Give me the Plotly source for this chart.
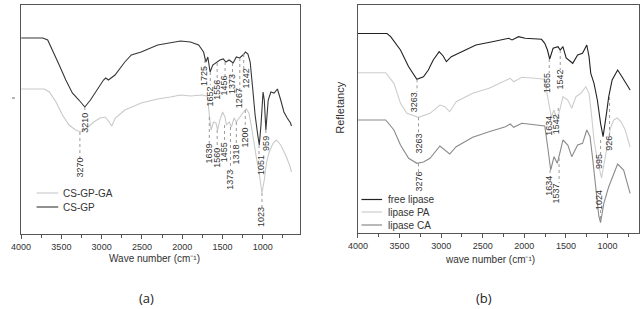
import plotly.graph_objects as go

# ---------------- data: panel (a) ----------------
gp_wn = [4000, 3731, 3670, 3609, 3527, 3445, 3364, 3282, 3209, 3139, 3059, 2977, 2949, 2916, 2834,
         2712, 2631, 2509, 2304, 2142, 2020, 1897, 1795, 1734, 1705, 1681, 1653, 1620, 1571, 1531,
         1489, 1457, 1416, 1367, 1327, 1286, 1245, 1213, 1183, 1155, 1122, 1094, 1061, 1042, 1021,
         995, 980, 960, 931, 898, 858, 817, 776, 736, 695, 654, 642]
gp_val = [196, 196, 194, 184, 169, 154, 141, 134, 127, 134, 144, 154, 156, 154, 159,
          172, 179, 182, 189, 191, 193, 192, 189, 182, 172, 177, 162, 169, 172, 174,
          175, 172, 174, 171, 177, 176, 179, 182, 180, 172, 144, 119, 99, 89, 109,
          142, 134, 104, 134, 142, 141, 145, 134, 122, 116, 111, 108]

ga_wn = [4000, 3710, 3649, 3567, 3487, 3405, 3323, 3258, 3181, 3099, 3017, 2956, 2916, 2875, 2830,
         2712, 2509, 2304, 2146, 2020, 1897, 1754, 1693, 1685, 1660, 1640, 1611, 1580, 1559, 1531,
         1498, 1469, 1449, 1416, 1388, 1355, 1327, 1286, 1237, 1204, 1171, 1143, 1103, 1073, 1049,
         1021, 1009, 980, 951, 919, 870, 829, 776, 715, 666, 642]
ga_val = [145, 145, 142, 132, 119, 109, 104, 102, 106, 112, 116, 117, 113, 108, 116,
          124, 131, 135, 137, 139, 138, 139, 138, 137, 117, 104, 112, 111, 104, 114,
          122, 117, 109, 112, 107, 116, 112, 117, 122, 125, 121, 109, 87, 74, 64,
          47, 41, 54, 72, 82, 91, 94, 89, 79, 69, 62]

# ---------------- data: panel (b) ----------------
fl_wn = [4000, 3651, 3607, 3556, 3489, 3391, 3331, 3292, 3213, 3154, 3095, 3024, 2976, 2937, 2878,
         2779, 2582, 2385, 2187, 2148, 2069, 1990, 1793, 1754, 1722, 1695, 1654, 1595, 1568, 1536,
         1497, 1418, 1359, 1300, 1249, 1222, 1201, 1162, 1122, 1083, 1053, 1012, 985, 944, 911,
         878, 826, 787, 728]
fl_val = [199.5, 199.5, 196.3, 191, 183, 166.3, 158, 153.7, 156.3, 163, 173, 181.3, 177, 171.3, 176.3,
          180, 188, 191.3, 194.7, 193, 196.3, 194.7, 193.7, 189.7, 183, 174, 184.7, 186.3, 183, 186.3,
          175, 169.7, 178, 179.7, 188, 176.3, 159.7, 149.7, 133, 109.7, 96.3, 119.7, 136.3, 153, 158,
          163, 156.3, 151.3, 143]

pa_wn = [4000, 3666, 3568, 3489, 3411, 3272, 3134, 3015, 2956, 2897, 2819, 2621, 2424, 2227, 2168,
         2128, 2030, 1872, 1754, 1706, 1675, 1643, 1604, 1564, 1536, 1477, 1430, 1379, 1320, 1261,
         1222, 1194, 1162, 1122, 1091, 1071, 1044, 1004, 964, 925, 882, 834, 787, 728]
pa_val = [160.3, 160.3, 149.7, 129.7, 119.7, 115.7, 119.7, 128, 126.3, 121.3, 131.3, 139.7, 144.7, 153, 154.7,
          151.3, 155.7, 154.7, 153.7, 129.7, 116.3, 123, 113, 126.3, 136.3, 133, 124.7, 136.3, 139.7, 146.3,
          139.7, 119.7, 93, 73, 59.7, 55, 68, 88, 105, 113, 115, 111, 103, 86]

ca_wn = [4000, 3666, 3568, 3489, 3391, 3292, 3213, 3134, 3015, 2956, 2897, 2819, 2621, 2424, 2227,
         2168, 2128, 2030, 1872, 1754, 1714, 1683, 1643, 1604, 1564, 1536, 1477, 1430, 1359, 1300,
         1249, 1210, 1181, 1154, 1122, 1103, 1083, 1044, 985, 925, 878, 806, 728]
ca_val = [113, 113, 103, 88, 74.7, 69.7, 71, 74.7, 87, 83, 79, 86.3, 95.7, 101.3, 106.3,
          109, 105.7, 109.7, 108, 107, 83, 63, 76.3, 69.7, 83, 93, 88, 76.3, 88, 89.7,
          103, 96.3, 76.3, 53, 29.7, 16.3, 10.5, 29.7, 46.3, 59.7, 69, 63, 39.7]

# peak labels (text) for each panel
a_labels = ["3210", "3270", "1725", "1652", "1556", "1456", "1373", "1267", "1242",
            "1639", "1560", "1455", "1373", "1318", "1200", "1051", "959", "1023"]
b_labels = ["3263", "3263", "3276", "1655", "1542", "1634", "1542", "1634", "1537",
            "926", "995", "1024"]

# label placement (wave number, height) - layout only
a_lab_pos = [(3209, 111), (3274, 66), (1721, 157.5), (1648, 138), (1571, 144), (1469, 148.5),
             (1375, 150.5), (1286, 135.5), (1196, 155.5), (1672, 80), (1571, 76), (1477, 82),
             (1408, 54), (1326, 80), (1225, 96), (1021, 69), (960, 91), (1021, 17)]
a_lines = [(3209, 127, 121), (3270, 102, 76), (1718, 174, 164), (1650, 162, 149), (1565, 171, 151),
           (1467, 172, 156), (1375, 171, 157), (1284, 176, 144), (1235, 180, 164),
           (1663, 117, 89), (1565, 104, 84), (1473, 109, 91), (1400, 107, 64), (1327, 112, 89),
           (1216, 124, 106), (1045, 89, 77), (960, 104, 99), (1009, 41, 26)]
b_lab_pos = [(3323, 131), (3272, 89), (3272, 51), (1722, 150.5), (1576, 153), (1707, 107),
             (1615, 109), (1707, 47), (1624, 39), (985, 90), (1101, 71), (1101, 33)]
b_lines = [(3290, 153.7, 141), (3272, 115.7, 98), (3272, 69.7, 60), (1700, 174, 160),
           (1568, 183, 163), (1592, 125, 118), (1690, 63, 56), (1582, 75, 50),
           (975, 136, 96), (1083, 93, 78), (1083, 23, 10.5)]

DARK_A, LIGHT_A = "#363636", "#c9c9c9"
DARK_B, LIGHT_B, MID_B = "#222222", "#cdcdcd", "#8a8a8a"
TXT = "#333333"
FONT = "Liberation Sans, Arial, sans-serif"

fig = go.Figure()
fig.add_trace(go.Scatter(x=ga_wn, y=ga_val, mode="lines", name="CS-GP-GA",
                         line=dict(color=LIGHT_A, width=1.1), xaxis="x", yaxis="y", showlegend=False))
fig.add_trace(go.Scatter(x=gp_wn, y=gp_val, mode="lines", name="CS-GP",
                         line=dict(color=DARK_A, width=1.1), xaxis="x", yaxis="y", showlegend=False))
fig.add_trace(go.Scatter(x=pa_wn, y=pa_val, mode="lines", name="lipase PA",
                         line=dict(color=LIGHT_B, width=1.1), xaxis="x2", yaxis="y2", showlegend=False))
fig.add_trace(go.Scatter(x=ca_wn, y=ca_val, mode="lines", name="lipase CA",
                         line=dict(color=MID_B, width=1.1), xaxis="x2", yaxis="y2", showlegend=False))
fig.add_trace(go.Scatter(x=fl_wn, y=fl_val, mode="lines", name="free lipase",
                         line=dict(color=DARK_B, width=1.1), xaxis="x2", yaxis="y2", showlegend=False))

shapes = []
annotations = []
for (xw, y0, y1) in a_lines:
    shapes.append(dict(type="line", xref="x", yref="y", x0=xw, x1=xw, y0=y0, y1=y1,
                       line=dict(color="#9a9a9a", width=1, dash="dot")))
for (xw, y0, y1) in b_lines:
    shapes.append(dict(type="line", xref="x2", yref="y2", x0=xw, x1=xw, y0=y0, y1=y1,
                       line=dict(color="#9a9a9a", width=1, dash="dot")))
for t, (xw, yv) in zip(a_labels, a_lab_pos):
    annotations.append(dict(text=t, x=xw, y=yv, xref="x", yref="y", showarrow=False, textangle=-90,
                            xanchor="center", yanchor="middle", font=dict(size=9, color=TXT, family=FONT)))
for t, (xw, yv) in zip(b_labels, b_lab_pos):
    annotations.append(dict(text=t, x=xw, y=yv, xref="x2", yref="y2", showarrow=False, textangle=-90,
                            xanchor="center", yanchor="middle", font=dict(size=9, color=TXT, family=FONT)))

W, H = 640, 309
def px(x): return x / W
def py(y): return 1 - y / H

# manual legends
leg_a = [("CS-GP-GA", LIGHT_A, 193), ("CS-GP", DARK_A, 207)]
leg_b = [("free lipase", DARK_B, 199.5), ("lipase PA", LIGHT_B, 212), ("lipase CA", MID_B, 225)]
for name, col, yy in leg_a:
    shapes.append(dict(type="line", xref="paper", yref="paper", x0=px(27), x1=px(49), y0=py(yy), y1=py(yy),
                       line=dict(color=col, width=1.1)))
    annotations.append(dict(text=name, x=px(52), y=py(yy), xref="paper", yref="paper", showarrow=False,
                            xanchor="left", yanchor="middle", font=dict(size=10, color=TXT, family=FONT)))
for name, col, yy in leg_b:
    shapes.append(dict(type="line", xref="paper", yref="paper", x0=px(357), x1=px(378), y0=py(yy), y1=py(yy),
                       line=dict(color=col, width=1.2)))
    annotations.append(dict(text=name, x=px(382), y=py(yy), xref="paper", yref="paper", showarrow=False,
                            xanchor="left", yanchor="middle", font=dict(size=10, color=TXT, family=FONT)))

# small stray tick mark at the left edge of panel (a)
shapes.append(dict(type="line", xref="paper", yref="paper", x0=px(2), x1=px(5), y0=py(98), y1=py(98),
                   line=dict(color="#666", width=1)))

annotations += [
    dict(text="Wave number (cm⁻¹)", x=px(147), y=py(258), xref="paper", yref="paper", showarrow=False,
         xanchor="center", yanchor="middle", font=dict(size=10, color=TXT, family=FONT)),
    dict(text="wave number (cm⁻¹)", x=px(488), y=py(259), xref="paper", yref="paper", showarrow=False,
         xanchor="center", yanchor="middle", font=dict(size=10, color=TXT, family=FONT)),
    dict(text="Refletancy", x=px(335), y=py(108), xref="paper", yref="paper", showarrow=False,
         textangle=-90, font=dict(size=11, color=TXT, family=FONT)),
    dict(text="(a)", x=px(139), y=py(298), xref="paper", yref="paper", showarrow=False,
         xanchor="center", yanchor="middle",
         font=dict(size=13, color="#222", family="Open Sans, sans-serif")),
    dict(text="(b)", x=px(482), y=py(298), xref="paper", yref="paper", showarrow=False,
         xanchor="center", yanchor="middle",
         font=dict(size=13, color="#222", family="Open Sans, sans-serif")),
]

xcommon = dict(showline=True, linecolor="#555", linewidth=1, mirror=True, showgrid=False, zeroline=False,
               ticks="outside", ticklen=4, tickcolor="#555", dtick=500, tick0=0,
               minor=dict(dtick=250, ticks="outside", ticklen=3, tickcolor="#555", showgrid=False),
               tickfont=dict(size=9, color=TXT, family=FONT))
ycommon = dict(showline=True, linecolor="#555", linewidth=1, mirror=True, showgrid=False, zeroline=False,
               showticklabels=False, ticks="")

fig.update_layout(
    width=W, height=H, margin=dict(l=0, r=0, t=0, b=0), paper_bgcolor="white", plot_bgcolor="white",
    showlegend=False,
    xaxis=dict(domain=[px(11.3), px(294.3)], range=[4000, 540], anchor="y", **xcommon),
    yaxis=dict(domain=[py(234), py(5.3)], range=[0, 228.7], anchor="x", **ycommon),
    xaxis2=dict(domain=[px(353.5), px(639)], range=[4000, 621], anchor="y2", **xcommon),
    yaxis2=dict(domain=[py(233), py(5.3)], range=[0, 227.7], anchor="x2", **ycommon),
    shapes=shapes, annotations=annotations,
)

fig.write_html("out.html")
